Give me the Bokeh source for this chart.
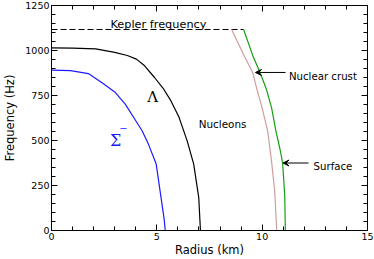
import math
from bokeh.plotting import figure
from bokeh.models import Range1d, LinearAxis, FixedTicker, Label, Arrow, VeeHead
from bokeh.embed import file_html
from bokeh.resources import INLINE

# ---- data ----
kepler_r = [0.0, 9.12]
kepler_f = [1117, 1117]

sigma_r = [0.0, 0.9, 1.75, 2.5, 3.0, 3.5, 4.0, 4.3, 4.6, 4.97, 5.2, 5.35, 5.4]
sigma_f = [891, 888, 872, 813, 770, 702, 610, 554, 480, 369, 183, 60, 0]

lambda_r = [0.0, 1.0, 2.1, 3.0, 3.6, 4.03, 4.42, 4.89, 5.3, 5.67, 6.05, 6.44, 6.75, 6.99, 7.07]
lambda_f = [1015, 1013, 1009, 990, 972, 952, 915, 850, 790, 720, 630, 498, 369, 183, 0]

nucleon_r = [8.55, 9.15, 9.55, 9.75, 10.0, 10.26, 10.45, 10.6, 10.69]
nucleon_f = [1117, 970, 878, 785, 680, 554, 380, 211, 0]

crust_r = [9.12, 9.56, 9.9, 10.2, 10.45, 10.65, 10.85, 10.97, 11.07, 11.1]
crust_f = [1117, 970, 878, 785, 680, 554, 450, 375, 200, 0]

x_ticks = [0, 5, 10, 15]
x_minor = [0, 1, 2, 3, 4, 5, 6, 7, 8, 9, 10, 11, 12, 13, 14, 15]
y_ticks = [0, 250, 500, 750, 1000, 1250]
y_minor = [0, 50, 100, 150, 200, 250, 300, 350, 400, 450, 500, 550, 600, 650, 700,
           750, 800, 850, 900, 950, 1000, 1050, 1100, 1150, 1200, 1250]

FONT = "DejaVu Sans"
SERIF = "DejaVu Serif"

p = figure(width=374, height=259, output_backend="svg", toolbar_location=None,
           x_range=Range1d(0, 15), y_range=Range1d(0, 1250),
           min_border_left=45, min_border_right=7, min_border_top=5, min_border_bottom=29,
           x_axis_label="Radius (km)", y_axis_label="Frequency (Hz)")
p.grid.visible = False
p.outline_line_color = "black"
p.background_fill_color = "white"
p.border_fill_color = "white"


def style_axis(ax, ticks, minor, labels=True):
    ax.ticker = FixedTicker(ticks=ticks, minor_ticks=minor)
    ax.axis_line_color = "black"
    ax.axis_line_width = 1
    ax.major_tick_line_color = "black"
    ax.minor_tick_line_color = "black"
    ax.major_tick_in = 6
    ax.major_tick_out = 0
    ax.minor_tick_in = 4
    ax.minor_tick_out = 0
    if labels:
        ax.major_label_text_font = FONT
        ax.major_label_text_font_size = "9.5px"
        ax.major_label_text_color = "black"
        ax.major_label_standoff = 2
        ax.axis_label_text_font = FONT
        ax.axis_label_text_font_size = "11.5px"
        ax.axis_label_text_font_style = "normal"
        ax.axis_label_text_color = "black"
    else:
        ax.major_label_text_font_size = "0px"
        ax.major_label_standoff = 0
        ax.major_label_text_alpha = 0


style_axis(p.xaxis[0], x_ticks, x_minor)
style_axis(p.yaxis[0], y_ticks, y_minor)
p.xaxis[0].axis_label_standoff = 0
p.yaxis[0].axis_label_standoff = 5

top = LinearAxis()
style_axis(top, x_ticks, x_minor, labels=False)
p.add_layout(top, "above")
right = LinearAxis()
style_axis(right, y_ticks, y_minor, labels=False)
p.add_layout(right, "right")

# ---- curves ----
p.line(kepler_r, kepler_f, line_color="black", line_width=1.1, line_dash="6 3")
p.line(sigma_r, sigma_f, line_color="#1a1aff", line_width=1.2)
p.line(lambda_r, lambda_f, line_color="black", line_width=1.2)
p.line(nucleon_r, nucleon_f, line_color="#cf9d9d", line_width=1.2)
p.line(crust_r, crust_f, line_color="#12a012", line_width=1.2)

# ---- annotations ----
p.add_layout(Label(x=2.8, y=1143, text="Kepler frequency", text_align="left",
                   text_baseline="alphabetic", text_font=FONT, text_font_size="11.3px",
                   text_color="black"))
p.add_layout(Label(x=4.8, y=742, text="\u039b", text_align="center",
                   text_baseline="alphabetic", text_font=SERIF, text_font_size="15px",
                   text_color="black"))
p.add_layout(Label(x=3.05, y=498, text="\u03a3", text_align="center",
                   text_baseline="alphabetic", text_font=SERIF, text_font_size="16px",
                   text_color="#1a1aff"))
p.add_layout(Label(x=3.42, y=566, text="\u2212", text_align="center",
                   text_baseline="alphabetic", text_font=SERIF, text_font_size="10px",
                   text_color="#1a1aff"))
p.add_layout(Label(x=6.99, y=593, text="Nucleons", text_align="left",
                   text_baseline="alphabetic", text_font=FONT, text_font_size="10.4px",
                   text_color="black"))
p.add_layout(Label(x=11.27, y=856, text="Nuclear crust", text_align="left",
                   text_baseline="alphabetic", text_font=FONT, text_font_size="10.2px",
                   text_color="black"))
p.add_layout(Label(x=12.44, y=356, text="Surface", text_align="left",
                   text_baseline="alphabetic", text_font=FONT, text_font_size="10.2px",
                   text_color="black"))

p.add_layout(Arrow(end=VeeHead(size=6, fill_color="black", line_color="black", line_width=1),
                   x_start=11.11, y_start=878, x_end=9.68, y_end=878,
                   line_color="black", line_width=1))
p.add_layout(Arrow(end=VeeHead(size=6, fill_color="black", line_color="black", line_width=1),
                   x_start=12.2, y_start=375, x_end=10.99, y_end=375,
                   line_color="black", line_width=1))

open("out.html", "w").write(file_html(p, INLINE))
